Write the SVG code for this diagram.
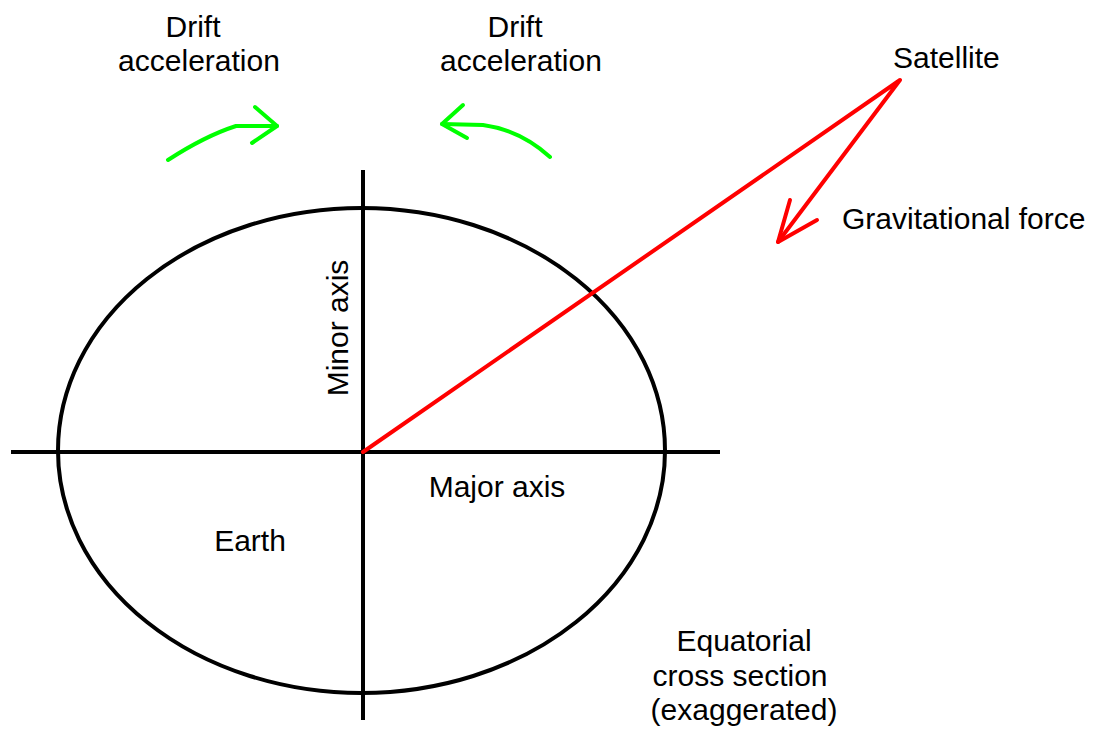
<svg xmlns="http://www.w3.org/2000/svg" width="1093" height="731" viewBox="0 0 1093 731">
<style>
text{font-family:"Liberation Sans",Arial,sans-serif;font-size:30px;fill:#000}
.k{stroke:#000;stroke-width:4;fill:none}
.r{stroke:#f00;stroke-width:4;fill:none;stroke-linecap:round;stroke-linejoin:round}
.g{stroke:#0f0;stroke-width:4;fill:none;stroke-linecap:round;stroke-linejoin:round}
.m{text-anchor:middle}
</style>
<rect width="1093" height="731" fill="#fff"/>
<g id="earth">
<ellipse class="k" cx="361.5" cy="450.5" rx="303.5" ry="242.5"/>
<text x="250" y="551" class="m">Earth</text>
</g>
<g id="major-axis">
<line class="k" x1="11" y1="452" x2="720" y2="452"/>
<text x="497" y="497" class="m">Major axis</text>
</g>
<g id="minor-axis">
<line class="k" x1="363" y1="170" x2="363" y2="720"/>
<text transform="translate(348,328) rotate(-90)" class="m">Minor axis</text>
</g>
<g id="satellite">
<text x="893" y="68">Satellite</text>
</g>
<g id="gravity-label">
<text x="842" y="229">Gravitational force</text>
</g>
<g id="drift-left">
<text x="193" y="37" class="m">Drift</text>
<text x="199" y="71" class="m">acceleration</text>
</g>
<g id="drift-right">
<text x="515" y="37" class="m">Drift</text>
<text x="521" y="71" class="m">acceleration</text>
</g>
<g id="caption">
<text x="744" y="651" class="m">Equatorial</text>
<text x="740" y="686" class="m">cross section</text>
<text x="744" y="720" class="m">(exaggerated)</text>
</g>
<g id="connectors">
<polyline class="r" points="363,452 900,80 778,242"/>
<polyline class="r" points="790,200 778,242 817,220"/>
<path class="g" d="M168,160 Q205,136 236,126 L277,126"/>
<polyline class="g" points="255,107 277,126 252,143"/>
<path class="g" d="M550,157 Q520,130 483,125 L442,124"/>
<polyline class="g" points="463,105 442,124 467,138"/>
</g>
</svg>
